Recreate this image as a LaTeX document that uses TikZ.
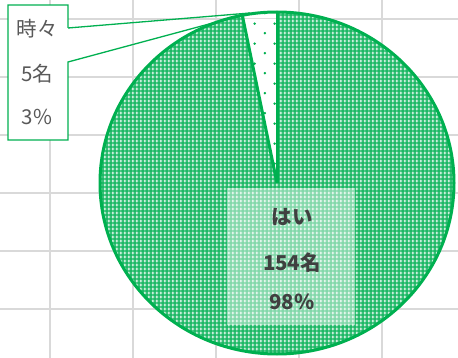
\documentclass[tikz,border=0pt]{standalone}
\usepackage{fontspec}
\setmainfont{Noto Sans CJK JP}
\usetikzlibrary{patterns.meta,calc}
\definecolor{xlgreen}{HTML}{00B050}
\definecolor{patgreen}{HTML}{1DB865}
\definecolor{gridgray}{HTML}{D9D9D9}
\definecolor{txtgray}{HTML}{595959}
\definecolor{txtdark}{HTML}{404040}
\pgfdeclarepattern{
  name=greencross, type=colored,
  bottom left={\pgfpoint{0pt}{0pt}},
  top right={\pgfpoint{4.4pt}{4.4pt}},
  tile size={\pgfpoint{4.4pt}{4.4pt}},
  code={
    \pgfsetfillcolor{patgreen}
    \pgfpathrectangle{\pgfpointorigin}{\pgfpoint{4.4pt}{4.4pt}}\pgfusepath{fill}
    \pgfsetfillcolor{white}
    \pgfpathrectangle{\pgfpoint{1.7pt}{0.7pt}}{\pgfpoint{1pt}{3pt}}\pgfusepath{fill}
    \pgfpathrectangle{\pgfpoint{0.7pt}{1.7pt}}{\pgfpoint{3pt}{1pt}}\pgfusepath{fill}
  }
}
\pgfdeclarepattern{
  name=greendots, type=colored,
  bottom left={\pgfpoint{0pt}{0pt}},
  top right={\pgfpoint{20pt}{20pt}},
  tile size={\pgfpoint{20pt}{20pt}},
  code={
    \pgfsetfillcolor{white}
    \pgfpathrectangle{\pgfpointorigin}{\pgfpoint{20pt}{20pt}}\pgfusepath{fill}
    \pgfsetfillcolor{xlgreen}
    \pgfpathcircle{\pgfpoint{5pt}{5pt}}{1.4pt}\pgfusepath{fill}
    \pgfpathcircle{\pgfpoint{15pt}{15pt}}{1.4pt}\pgfusepath{fill}
  }
}
\tikzset{
  gridline/.style={draw=gridgray, line width=1.5pt},
  slicebord/.style={draw=xlgreen, line width=3pt, line join=round},
  calloutline/.style={draw=xlgreen, line width=1.3pt},
  smalllab/.style={text=txtgray, font=\fontsize{20.5}{20.5}\selectfont, inner sep=0pt},
  biglab/.style={text=txtdark, font=\bfseries\fontsize{20.5}{20.5}\selectfont, inner sep=0pt},
}
\begin{document}
\begin{tikzpicture}[x=1pt,y=1pt]
\useasboundingbox (0,0) rectangle (458,-358);
\fill[white] (0,0) rectangle (458,-358);
% spreadsheet grid
\foreach \gx in {50,133,216,299,382} \draw[gridline] (\gx,0) -- (\gx,-358);
\foreach \gy in {19,77,135,193,251,309} \draw[gridline] (0,-\gy) -- (458,-\gy);
% pie geometry
\coordinate (c) at (277,-183);
\coordinate (top) at ($(c)+(90:177pt and 171pt)$);
\coordinate (edge) at ($(c)+(101.3:177pt and 171pt)$);
\coordinate (tip) at (250,-13);
% callout box
\coordinate (b1) at (8,-5);
\coordinate (b2) at (68,-5);
\coordinate (b3) at (68,-28);
\coordinate (b4) at (68,-62);
\coordinate (b5) at (68,-140);
\coordinate (b6) at (8,-140);
\fill[white] (b1) rectangle (b5);
\draw[calloutline, line join=miter] (b3) -- (b2) -- (b1) -- (b6) -- (b5) -- (b4) -- (tip) -- (b3);
% slices
\path[pattern=greencross] (c) -- (edge) arc[start angle=101.3, end angle=450, x radius=177pt, y radius=171pt] -- cycle;
\path[pattern=greendots] (c) -- (top) arc[start angle=90, end angle=101.3, x radius=177pt, y radius=171pt] -- cycle;
\draw[slicebord] (c) ellipse[x radius=177pt, y radius=171pt];
\draw[slicebord] (c) -- (top);
\draw[slicebord] (c) -- (edge);
% big label box
\fill[white, opacity=0.45] (227,-188) rectangle (355,-325);
\node[biglab] (yes1) at (292,-217) {はい};
\node[biglab] (yes2) at (292,-263) {154名};
\node[biglab] (yes3) at (292,-302) {98\%};
% small labels
\node[smalllab] (s1) at (37,-29) {時々};
\node[smalllab] (s2) at (37,-74) {5名};
\node[smalllab] (s3) at (37,-117) {3\%};
\end{tikzpicture}
\end{document}
